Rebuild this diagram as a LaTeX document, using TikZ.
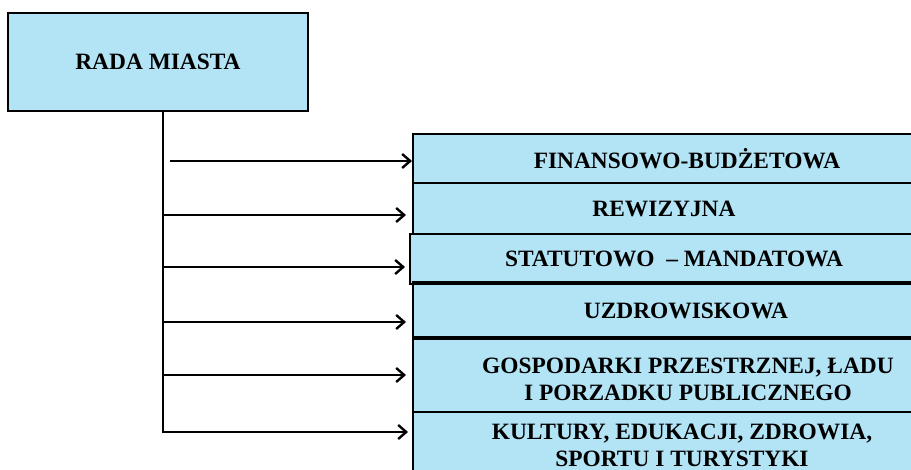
\documentclass[tikz,border=0pt]{standalone}
\usepackage{fontspec}
\setmainfont{Liberation Serif}
\usetikzlibrary{arrows.meta}

\definecolor{boxblue}{RGB}{178,228,246}

\tikzset{
    box/.style={draw,fill=boxblue,line width=1pt,inner sep=0pt,align=center,
        font=\fontsize{11.7}{13.5}\selectfont\bfseries},
    unit/.style={box,anchor=north west},
    link/.style={line width=1.2pt,-{Straight Barb[length=4pt,width=7pt,line width=1.2pt]}}
}

\begin{document}
\begin{tikzpicture}[x=0.5pt,y=-0.5pt]
    \clip (0,0) rectangle (911,470);
    \fill[white] (0,0) rectangle (911,470);

    \node[box,minimum width=150pt,minimum height=49pt] (rada) at (158,62) {RADA MIASTA};

    % the boxes run out past the right edge
    \node[unit,minimum width=274pt,minimum height=24.5pt] (fin) at (412,133) {FINANSOWO-BUDŻETOWA};
    \node[unit,minimum width=251pt,minimum height=25.5pt] (rew) at (412,182) {REWIZYJNA};
    \node[unit,minimum width=264pt,minimum height=25pt] (stat) at (409,233) {STATUTOWO \ – MANDATOWA};
    \node[unit,minimum width=273pt,minimum height=26.5pt] (uzd) at (412,283) {UZDROWISKOWA};
    \node[unit,minimum width=275pt,minimum height=42.5pt] (gosp) at (412,336) {GOSPODARKI PRZESTRZNEJ, ŁADU\\I PORZADKU PUBLICZNEGO};
    \node[unit,minimum width=269pt,minimum height=33pt] (kult) at (412,411) {KULTURY, EDUKACJI, ZDROWIA,\\SPORTU I TURYSTYKI};

    \draw[line width=1.7pt] (uzd.north west) -- (uzd.north east);
    \draw[line width=1.7pt] (uzd.south west) -- (uzd.south east);

    \coordinate (top) at ([xshift=2.5pt]rada.south);
    \coordinate (a1) at (170,161);
    \coordinate (a2) at (163,215);
    \coordinate (a3) at (163,267);
    \coordinate (a4) at (163,322);
    \coordinate (a5) at (163,375);
    \coordinate (a6) at (163,432);

    \draw[link] (top) -- (a6) -- ([xshift=-2pt]a6 -| kult.west);
    \draw[link] (a1) -- (a1 -| fin.west);
    \draw[link] (a2) -- ([xshift=-3pt]a2 -| rew.west);
    \draw[link] (a3) -- ([xshift=-2pt]a3 -| stat.west);
    \draw[link] (a4) -- ([xshift=-3pt]a4 -| uzd.west);
    \draw[link] (a5) -- ([xshift=-3pt]a5 -| gosp.west);
\end{tikzpicture}
\end{document}
